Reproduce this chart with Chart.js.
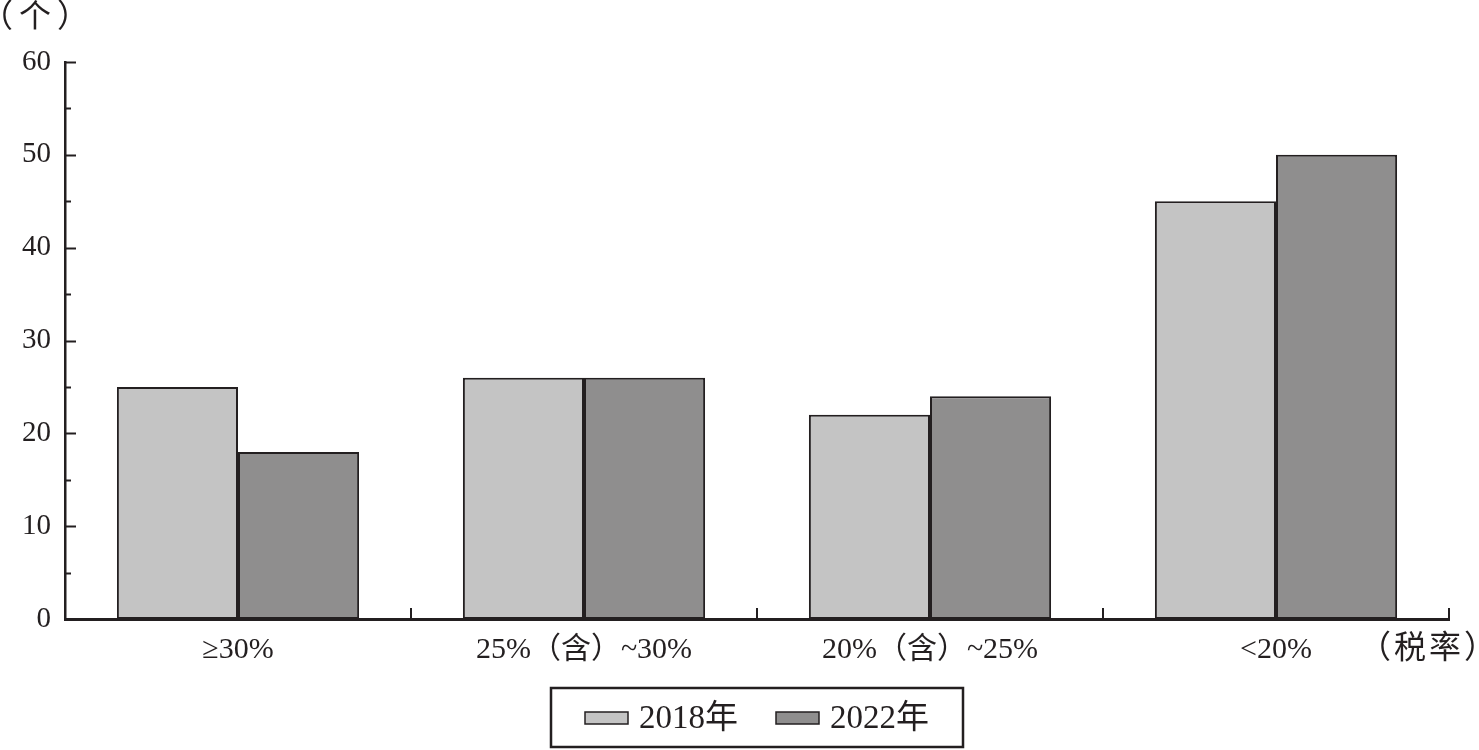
<!DOCTYPE html>
<html>
<head>
<meta charset="utf-8">
<script src="https://cdn.jsdelivr.net/npm/chart.js@4"></script>
<style>
html,body{margin:0;padding:0;background:#fff;}
#wrap{width:1479px;height:750px;position:relative;}
</style>
</head>
<body>
<div id="wrap"><canvas id="c" width="1479" height="750"></canvas></div>
<script>
const categories = ["≥30%", "25%（含）~30%", "20%（含）~25%", "<20%"];
const seriesLabels = ["2018年", "2022年"];
const values2018 = [25, 26, 22, 45];
const values2022 = [18, 26, 24, 50];
const yTicksMajor = [0, 10, 20, 30, 40, 50, 60];
const yUnit = "（个）";
const xUnit = "（税率）";

const FONT = '"Liberation Serif", "Noto Sans CJK SC", serif';
const INK = '#231f20';
const colors = ['#c4c4c4', '#8f8e8e'];

const extras = {
  id: 'extras',
  afterDraw(chart) {
    const ctx = chart.ctx;
    const ys = chart.scales.y;
    const ca = chart.chartArea;
    ctx.save();
    ctx.strokeStyle = INK;
    // y ticks (inside)
    ctx.lineWidth = 2;
    for (let v = 0; v <= 60; v += 5) {
      const y = Math.round(ys.getPixelForValue(v)) + 0.5;
      const len = (v % 10 === 0) ? 11 : 6;
      ctx.beginPath();
      ctx.moveTo(ca.left, y);
      ctx.lineTo(ca.left + len, y);
      ctx.stroke();
    }
    // x ticks (category boundaries, upward)
    const n = categories.length;
    for (let i = 1; i <= n; i++) {
      const x = ca.left + i * (ca.right - ca.left) / n;
      ctx.beginPath();
      ctx.moveTo(x, ca.bottom);
      ctx.lineTo(x, ca.bottom - 11);
      ctx.stroke();
    }
    // unit labels
    ctx.fillStyle = INK;
    ctx.textBaseline = 'middle';
    ctx.textAlign = 'left';
    ctx.font = '32px ' + FONT;
    ctx.letterSpacing = '6px';
    ctx.fillText(yUnit, -19, 19);
    ctx.letterSpacing = '3px';
    ctx.fillText(xUnit, 1359, 650);
    ctx.letterSpacing = '0px';
    // legend
    const lx = 551, ly = 688, lw = 412, lh = 59;
    ctx.lineWidth = 2.5;
    ctx.strokeRect(lx, ly, lw, lh);
    const itemX = [585, 776];
    ctx.font = '33px ' + FONT;
    for (let i = 0; i < seriesLabels.length; i++) {
      ctx.fillStyle = colors[i];
      ctx.fillRect(itemX[i], 712, 43, 12);
      ctx.lineWidth = 1.5;
      ctx.strokeStyle = INK;
      ctx.strokeRect(itemX[i], 712, 43, 12);
      ctx.fillStyle = INK;
      ctx.fillText(seriesLabels[i], itemX[i] + 54, 719);
    }
    ctx.restore();
  }
};

new Chart(document.getElementById('c'), {
  type: 'bar',
  data: {
    labels: categories,
    datasets: [
      { label: seriesLabels[0], data: values2018, backgroundColor: colors[0], borderColor: INK, borderWidth: 2, borderSkipped: false },
      { label: seriesLabels[1], data: values2022, backgroundColor: colors[1], borderColor: INK, borderWidth: 2, borderSkipped: false }
    ]
  },
  options: {
    responsive: false,
    animation: false,
    devicePixelRatio: 1,
    layout: { padding: { top: 62, right: 30, left: 0, bottom: 0 } },
    datasets: { bar: { categoryPercentage: 0.7, barPercentage: 1.0 } },
    plugins: { legend: { display: false }, tooltip: { enabled: false } },
    scales: {
      x: {
        grid: { display: false, drawTicks: false },
        border: { display: true, color: INK, width: 3 },
        ticks: { color: INK, font: { family: FONT, size: 30 }, padding: 13, maxRotation: 0, autoSkip: false },
        afterFit(s) { s.height = 131; }
      },
      y: {
        min: 0, max: 60,
        afterBuildTicks(s) { s.ticks = yTicksMajor.map(v => ({ value: v })); },
        grid: { display: false, drawTicks: false },
        border: { display: true, color: INK, width: 2.5 },
        ticks: { color: INK, font: { family: FONT, size: 29 }, padding: 14 },
        afterFit(s) { s.width = 65; }
      }
    }
  },
  plugins: [extras]
});
</script>
</body>
</html>
